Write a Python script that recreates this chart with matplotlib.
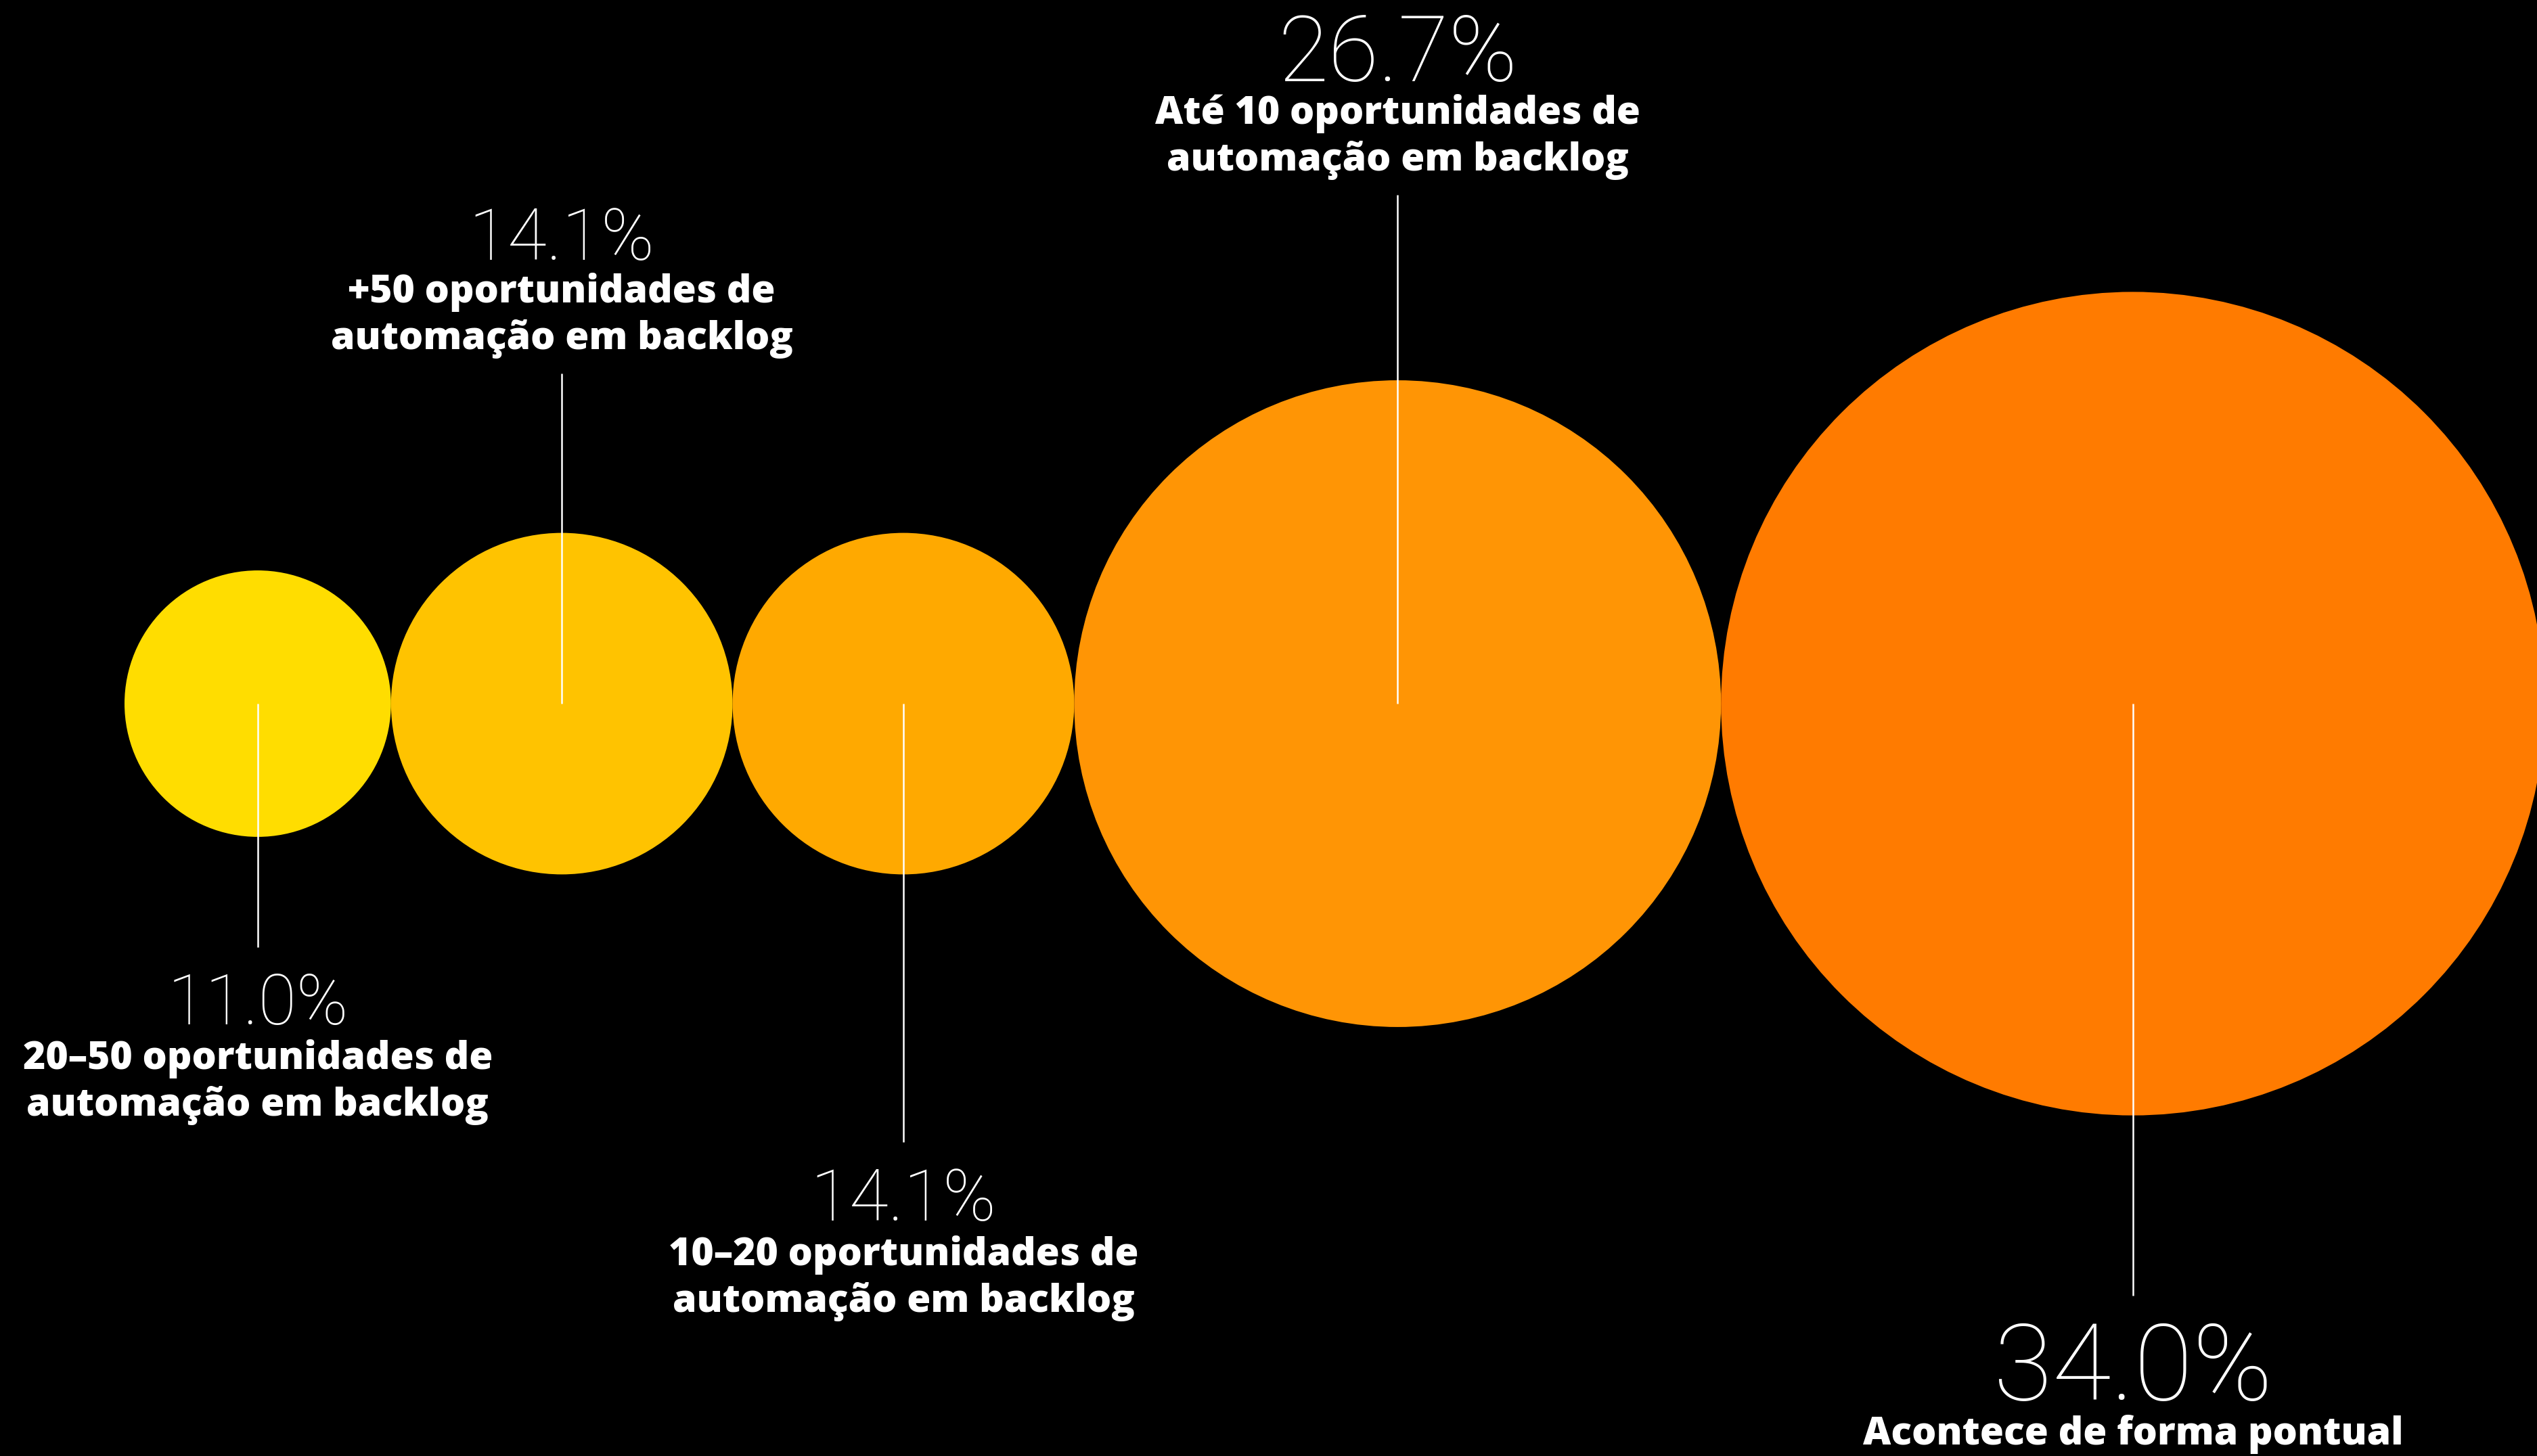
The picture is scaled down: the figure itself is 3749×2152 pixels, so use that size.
import numpy as np
import matplotlib
matplotlib.use("Agg")
import matplotlib.pyplot as plt
from matplotlib.patches import Circle

# share of respondents per answer, left to right
values = [11.0, 14.1, 14.1, 26.7, 34.0]
labels = [
    "20–50 oportunidades de\nautomação em backlog",
    "+50 oportunidades de\nautomação em backlog",
    "10–20 oportunidades de\nautomação em backlog",
    "Até 10 oportunidades de\nautomação em backlog",
    "Acontece de forma pontual",
]
colors = ["#FFDD00", "#FFC300", "#FFA900", "#FF9505", "#FF7B00"]

W, H = 3749, 2152
px_per_pct = 17.9      # bubble radius in px for each percentage point
cy = 1040              # vertical centre of all bubbles
x0 = 184               # left edge of the first bubble

# label layout: direction of the leader line and its free end (px)
side = ["down", "up", "down", "up", "down"]
line_end = [1400, 552, 1688, 288, 1915]
pct_size = [74, 76, 76, 98, 114]
lab_size = 41
lab_ls = 1.25

fig = plt.figure(figsize=(W / 100, H / 100), dpi=100, facecolor="black")
ax = fig.add_axes([0, 0, 1, 1])
ax.set_facecolor("black")
ax.set_xlim(0, W)
ax.set_ylim(H, 0)
ax.set_aspect("equal")
ax.axis("off")

radii = np.array(values) * px_per_pct
# bubbles sit side by side, each touching the next
centres = x0 + np.cumsum(radii) * 2 - radii

pct_font = dict(family=["Roboto", "DejaVu Sans"], weight="light", color="white")
lab_font = dict(family=["Open Sans", "DejaVu Sans"], weight=800, color="white")

for v, lab, c, r, cx, s, ye, fs in zip(values, labels, colors, radii, centres,
                                        side, line_end, pct_size):
    ax.add_patch(Circle((cx, cy), r, facecolor=c, edgecolor="none", zorder=1))
    ax.plot([cx, cx], [cy, ye], color="white", lw=1.8, zorder=2,
            solid_capstyle="butt")
    n_lines = lab.count("\n") + 1
    if s == "down":
        pct_base = ye + 40 + fs * 100 / 72 * 0.72
        ax.text(cx, pct_base, f"{v:.1f}%", ha="center", va="baseline",
                fontsize=fs, **pct_font)
        ax.text(cx, pct_base + 22, lab, ha="center", va="top",
                ma="center", fontsize=lab_size, linespacing=lab_ls, **lab_font)
    else:
        ax.text(cx, ye - 22, lab, ha="center", va="bottom",
                ma="center", fontsize=lab_size, linespacing=lab_ls, **lab_font)
        lab_top = ye - 22 - n_lines * lab_size * 100 / 72 * lab_ls - 4
        ax.text(cx, lab_top, f"{v:.1f}%", ha="center", va="baseline",
                fontsize=fs, **pct_font)

fig.savefig("out.png", dpi=100, facecolor="black")
